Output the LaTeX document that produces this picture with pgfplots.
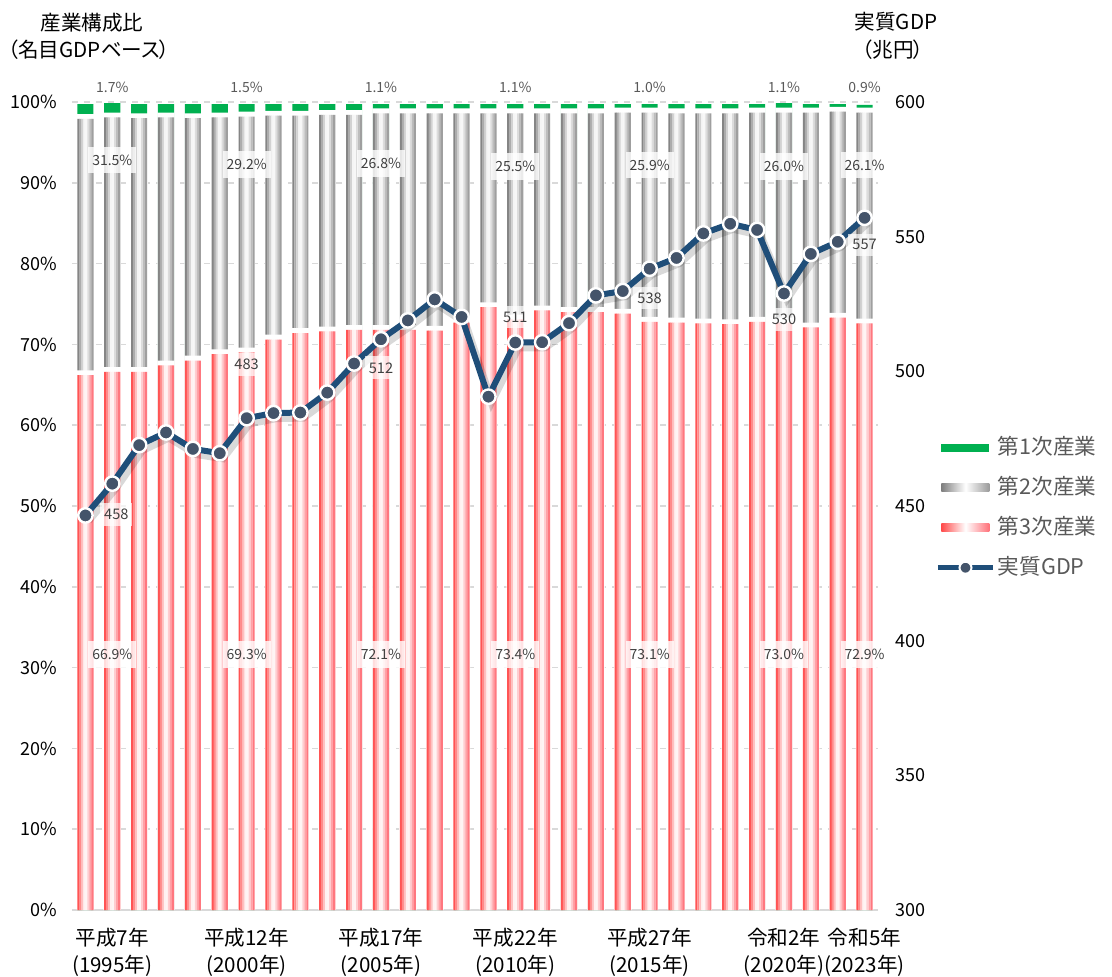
\documentclass[border=0pt]{standalone}
\usepackage{fontspec}
\setmainfont{Noto Sans CJK JP}[RawFeature=+palt]
\usepackage{pgfplots}
\usepackage{pgfplotstable}
\pgfplotsset{compat=1.18}

\definecolor{greenP}{HTML}{00B050}
\definecolor{grayL}{HTML}{7F7F7F}
\definecolor{grayR}{HTML}{9A9A9A}
\definecolor{redL}{HTML}{FF4B4B}
\definecolor{redR}{HTML}{FF7078}
\definecolor{lineblue}{HTML}{1F4E79}
\definecolor{markfill}{HTML}{44546A}
\definecolor{gridgray}{HTML}{D9D9D9}
\definecolor{txtdark}{HTML}{404040}
\definecolor{txtgray}{HTML}{595959}

% strip colours: dark edge -> white centre -> dark edge
\colorlet{redS0}{redL!95}\colorlet{redS1}{redL!65}\colorlet{redS2}{redL!35}\colorlet{redS3}{redL!8}
\colorlet{redS4}{redR!8}\colorlet{redS5}{redR!35}\colorlet{redS6}{redR!65}\colorlet{redS7}{redR!95}
\colorlet{grayS0}{grayL!95}\colorlet{grayS1}{grayL!65}\colorlet{grayS2}{grayL!35}\colorlet{grayS3}{grayL!8}
\colorlet{grayS4}{grayR!8}\colorlet{grayS5}{grayR!35}\colorlet{grayS6}{grayR!65}\colorlet{grayS7}{grayR!95}

% share of nominal GDP by sector (%)
\pgfplotstableread{
year ter sec pri
1994 66.5 31.7 1.8
1995 66.9 31.5 1.7
1996 66.9 31.4 1.7
1997 67.7 30.7 1.6
1998 68.3 30.0 1.7
1999 69.1 29.3 1.6
2000 69.3 29.2 1.5
2001 70.9 27.7 1.4
2002 71.7 26.9 1.4
2003 71.9 26.8 1.3
2004 72.1 26.6 1.3
2005 72.1 26.8 1.1
2006 72.1 26.8 1.1
2007 72.0 26.9 1.1
2008 73.0 25.9 1.1
2009 74.9 24.0 1.1
2010 73.4 25.5 1.1
2011 74.5 24.4 1.1
2012 74.3 24.6 1.1
2013 74.3 24.6 1.1
2014 74.1 24.9 1.0
2015 73.1 25.9 1.0
2016 73.0 25.9 1.1
2017 72.9 26.0 1.1
2018 72.8 26.1 1.1
2019 73.1 25.9 1.0
2020 73.0 26.0 1.1
2021 72.4 26.6 1.0
2022 73.6 25.5 0.9
2023 72.9 26.1 0.9
}\shares

% real GDP (trillion yen)
\pgfplotstableread{
year gdp
1994 446.5
1995 458.3
1996 472.6
1997 477.3
1998 471.2
1999 469.6
2000 482.6
2001 484.5
2002 484.7
2003 492.1
2004 502.9
2005 511.9
2006 518.9
2007 526.7
2008 520.2
2009 490.6
2010 510.7
2011 510.8
2012 517.9
2013 528.2
2014 529.8
2015 538.1
2016 542.1
2017 551.2
2018 554.8
2019 552.5
2020 528.9
2021 543.6
2022 548.1
2023 557.0
}\gdp

\tikzset{
  pctlab/.style={fill=white, fill opacity=0.8, text opacity=1, text=txtdark,
    font=\fontsize{7}{8}\selectfont, inner xsep=2pt, inner ysep=4pt},
  toplab/.style={text=txtgray, font=\fontsize{7}{8}\selectfont, inner sep=0pt},
  gdplab/.style={fill=white, fill opacity=0.7, text opacity=1, text=txtdark,
    font=\fontsize{7.3}{8}\selectfont, inner xsep=2pt, inner ysep=3pt},
}

\begin{document}
\begin{tikzpicture}
\begin{axis}[
    name=ax,
    scale only axis, width=403pt, height=404pt,
    xmin=1993.5, xmax=2023.5, ymin=0, ymax=100,
    axis x line*=bottom, axis y line*=left, axis line style={-},
    x axis line style={draw=gridgray, line width=1pt},
    y axis line style={draw=none},
    major tick length=0pt,
    xtick={1995,2000,2005,2010,2015,2020,2023},
    xticklabels={{平成7年\\(1995年)},{平成12年\\(2000年)},{平成17年\\(2005年)},{平成22年\\(2010年)},{平成27年\\(2015年)},{令和2年\\(2020年)},{令和5年\\(2023年)}},
    xticklabel style={align=center, font=\fontsize{10.3}{13.5}\selectfont, anchor=north, inner sep=0pt, yshift=-9pt},
    ytick={0,10,...,100},
    yticklabel={\pgfmathprintnumber{\tick}\%},
    yticklabel style={font=\fontsize{9}{10}\selectfont, anchor=east, inner sep=0pt, xshift=-7.5pt},
    /pgf/number format/assume math mode=true,
    ymajorgrids, grid style={draw=gridgray, dash pattern=on 3pt off 3pt, line width=0.75pt},
    clip=false,
]
% primary (top), drawn as the full column
\addplot[ybar, bar width=0.6, bar shift=0, fill=greenP, draw=none]
  table[x=year, y expr=\thisrow{ter}+\thisrow{sec}+\thisrow{pri}-0.25]{\shares};
\addplot[ybar, bar width=0.64, bar shift=0, fill=white, draw=none]
  table[x=year, y expr=\thisrow{ter}+\thisrow{sec}+0.3]{\shares};
% secondary, in strips for the shading
\pgfplotsinvokeforeach{0,...,7}{
  \addplot[ybar, bar width=0.08, bar shift={(#1-3.5)*0.0745}, fill=grayS#1, draw=none]
    table[x=year, y expr=\thisrow{ter}+\thisrow{sec}-0.3]{\shares};
}
\addplot[ybar, bar width=0.64, bar shift=0, fill=white, draw=none]
  table[x=year, y expr=\thisrow{ter}+0.3]{\shares};
% tertiary
\pgfplotsinvokeforeach{0,...,7}{
  \addplot[ybar, bar width=0.08, bar shift={(#1-3.5)*0.0745}, fill=redS#1, draw=none]
    table[x=year, y expr=\thisrow{ter}-0.3]{\shares};
}

\node[toplab] at (axis cs:1995,101.8) {1.7\%};
\node[toplab] at (axis cs:2000,101.8) {1.5\%};
\node[toplab] at (axis cs:2005,101.8) {1.1\%};
\node[toplab] at (axis cs:2010,101.8) {1.1\%};
\node[toplab] at (axis cs:2015,101.8) {1.0\%};
\node[toplab] at (axis cs:2020,101.8) {1.1\%};
\node[toplab] at (axis cs:2023,101.8) {0.9\%};

\node[pctlab] at (axis cs:1995,92.8) {31.5\%};
\node[pctlab] at (axis cs:2000,92.3) {29.2\%};
\node[pctlab] at (axis cs:2005,92.4) {26.8\%};
\node[pctlab] at (axis cs:2010,92.0) {25.5\%};
\node[pctlab] at (axis cs:2015,92.2) {25.9\%};
\node[pctlab] at (axis cs:2020,92.0) {26.0\%};
\node[pctlab] at (axis cs:2023,92.2) {26.1\%};

\node[pctlab] at (axis cs:1995,31.6) {66.9\%};
\node[pctlab] at (axis cs:2000,31.6) {69.3\%};
\node[pctlab] at (axis cs:2005,31.6) {72.1\%};
\node[pctlab] at (axis cs:2010,31.6) {73.4\%};
\node[pctlab] at (axis cs:2015,31.6) {73.1\%};
\node[pctlab] at (axis cs:2020,31.6) {73.0\%};
\node[pctlab] at (axis cs:2023,31.6) {72.9\%};
\end{axis}

\begin{axis}[
    scale only axis, width=403pt, height=404pt,
    at={(ax.south west)}, anchor=south west,
    xmin=1993.5, xmax=2023.5, ymin=300, ymax=600,
    axis x line=none, axis y line*=right, axis line style={-},
    y axis line style={draw=none},
    major tick length=0pt,
    ytick={300,350,...,600},
    yticklabel style={font=\fontsize{9}{10}\selectfont, anchor=west, inner sep=0pt, xshift=8.5pt},
    /pgf/number format/assume math mode=true,
    clip=false,
    legend cell align=left,
    legend style={at={(1.0707,0.585)}, anchor=north west, draw=none, fill=none,
      font=\fontsize{10.8}{12}\selectfont, text=txtgray, row sep=10pt, inner sep=0pt,
      nodes={inner ysep=0pt, inner xsep=1.2pt, text height=8.5pt, text depth=1.5pt}},
]
\addlegendimage{legend image code/.code={\fill[greenP, draw=none] (1.75pt,-2pt) rectangle (25.75pt,2pt);}}
\addlegendentry{第1次産業}
\addlegendimage{legend image code/.code={\shade[draw=none, left color=grayL, right color=grayR, middle color=white] (1.75pt,-2pt) rectangle (25.75pt,2pt);}}
\addlegendentry{第2次産業}
\addlegendimage{legend image code/.code={\shade[draw=none, left color=redL, right color=redR, middle color=white] (1.75pt,-2pt) rectangle (25.75pt,2pt);}}
\addlegendentry{第3次産業}

\addplot[forget plot, draw=black, opacity=0.15, line width=4pt, xshift=1.5pt, yshift=-2.5pt, mark=none]
  table[x=year, y=gdp]{\gdp};
\addplot[color=lineblue, line width=3pt, mark=*, mark size=3.6pt,
    mark options={fill=markfill, draw=white, line width=1.2pt},
    legend image code/.code={
      \draw[lineblue, line width=2.6pt] (0pt,0pt) -- (27.5pt,0pt);
      \fill[markfill, draw=white, line width=1pt] (13.75pt,0pt) circle (3pt);}]
  table[x=year, y=gdp]{\gdp};
\addlegendentry{実質GDP}

\node[gdplab, xshift=2pt, yshift=-15.5pt] at (axis cs:1995,458.3) {458};
\node[gdplab, yshift=27pt] at (axis cs:2000,482.6) {483};
\node[gdplab, yshift=-14.3pt] at (axis cs:2005,511.9) {512};
\node[gdplab, yshift=12.8pt] at (axis cs:2010,510.7) {511};
\node[gdplab, yshift=-14.6pt] at (axis cs:2015,538.1) {538};
\node[gdplab, yshift=-13pt] at (axis cs:2020,528.9) {530};
\node[gdplab, yshift=-13.5pt] at (axis cs:2023,557.0) {557};
\end{axis}

\node[font=\fontsize{10.3}{12}\selectfont] at ([xshift=10pt,yshift=39.5pt]ax.north west) {産業構成比};
\node[font=\fontsize{10.3}{12}\selectfont] at ([xshift=8.5pt,yshift=26pt]ax.north west) {（名目GDPベース）};
\node[font=\fontsize{10.3}{12}\selectfont] at ([xshift=9pt,yshift=40pt]ax.north east) {実質GDP};
\node[font=\fontsize{10.3}{12}\selectfont] at ([xshift=7.5pt,yshift=26pt]ax.north east) {（兆円）};

\pgfresetboundingbox
\path[use as bounding box] ([xshift=-36pt,yshift=-33pt]ax.south west) rectangle ([xshift=117pt,yshift=51pt]ax.north east);
\end{tikzpicture}
\end{document}
